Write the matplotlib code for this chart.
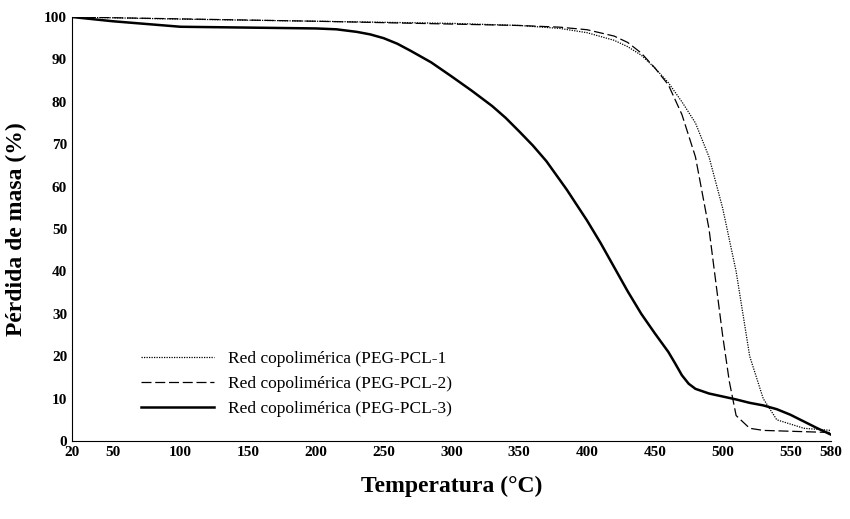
import matplotlib
matplotlib.use("Agg")
import matplotlib.pyplot as plt

t1 = [20,100,200,300,350,380,400,420,430,440,450,460,470,480,490,500,510,520,530,540,560,580]
m1 = [100,99.5,99,98.5,98,97.3,96.3,94.5,93,91,88,84.5,80,75,67,55,40,20,10,5,3,2.5]
t2 = [20,200,350,380,400,420,430,440,450,460,470,480,490,500,505,510,520,530,580]
m2 = [100,99,98,97.6,97,95.5,94,91.5,88,84,77,67,50,25,14,6,3,2.5,2]
t3 = [20,50,100,150,200,215,230,240,250,260,270,285,300,315,330,340,350,360,370,385,400,410,420,430,440,450,460,465,470,475,480,490,500,510,520,530,540,550,560,570,580]
m3 = [100,99,97.7,97.5,97.3,97.1,96.5,95.9,95,93.7,92,89.3,86,82.6,79,76.2,73,69.7,66,59.3,52,46.7,41,35.3,30,25.4,21,18.3,15.5,13.5,12.3,11.2,10.5,9.8,9,8.4,7.5,6.2,4.6,3,1.5]
labels = ["Red copolimérica (PEG-PCL-1", "Red copolimérica (PEG-PCL-2)", "Red copolimérica (PEG-PCL-3)"]
xticks = [20,50,100,150,200,250,300,350,400,450,500,550,580]
yticks = list(range(0,101,10))

plt.rcParams['font.family'] = ['Liberation Serif', 'DejaVu Serif']
fig = plt.figure(figsize=(8.5,5.19), dpi=100)
ax = fig.add_axes([72/850, 1-441/519, (831-72)/850, (441-17)/519])
ax.plot(t1, m1, color='black', lw=0.9, ls=(0,(1,1)), label=labels[0])
ax.plot(t2, m2, color='black', lw=0.9, ls=(0,(8,3)), label=labels[1])
ax.plot(t3, m3, color='black', lw=1.8, label=labels[2])
ax.set_xlim(20,580); ax.set_ylim(0,100)
ax.set_xticks(xticks); ax.set_yticks(yticks)
for s in ['top','right']: ax.spines[s].set_visible(False)
ax.tick_params(length=0, labelsize=11)
for lb in ax.get_xticklabels()+ax.get_yticklabels(): lb.set_fontweight('bold')
ax.set_xlabel('Temperatura (°C)', fontsize=17, fontweight='bold', labelpad=12)
ax.set_ylabel('Pérdida de masa (%)', fontsize=17, fontweight='bold', labelpad=12)
leg = ax.legend(loc='lower left', bbox_to_anchor=(0.07,0.02), frameon=False, fontsize=12.5, handlelength=4.2)
fig.savefig('out.png')
